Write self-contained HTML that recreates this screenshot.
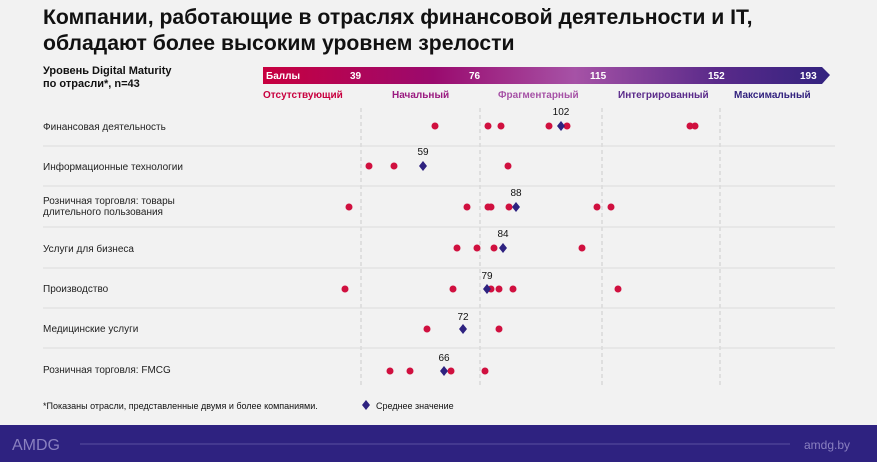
<!DOCTYPE html>
<html><head><meta charset="utf-8"><style>
body{margin:0;width:877px;height:462px;background:#f2f2f2;font-family:"Liberation Sans",sans-serif;overflow:hidden;position:relative}
.t{position:absolute;white-space:nowrap}
</style></head><body>
<div class="t" style="left:43px;top:5px;font-size:21.2px;font-weight:bold;color:#111;line-height:26px">Компании, работающие в отраслях финансовой деятельности и IT,<br>обладают более высоким уровнем зрелости</div>
<div class="t" style="left:43px;top:65px;font-size:11px;font-weight:bold;color:#111;line-height:13px">Уровень Digital Maturity<br>по отрасли*, n=43</div>
<svg width="877" height="462" style="position:absolute;left:0;top:0">
<defs><linearGradient id="g" x1="0" x2="1"><stop offset="0" stop-color="#c8003f"/><stop offset="0.3" stop-color="#9a0a6e"/><stop offset="0.55" stop-color="#a652a6"/><stop offset="0.8" stop-color="#5a2a8a"/><stop offset="1" stop-color="#33237f"/></linearGradient></defs>
<polygon points="263,67 822,67 830,75 822,84 263,84" fill="url(#g)"/>
<g font-size="10" font-weight="bold" fill="#fff">
<text x="266" y="79">Баллы</text><text x="350" y="79">39</text><text x="469" y="79">76</text><text x="590" y="79">115</text><text x="708" y="79">152</text><text x="800" y="79">193</text></g>
<g font-size="10" font-weight="bold">
<text x="263" y="98" fill="#c8003f">Отсутствующий</text><text x="392" y="98" fill="#9a1a80">Начальный</text><text x="498" y="98" fill="#a652a6">Фрагментарный</text><text x="618" y="98" fill="#5a2a8a">Интегрированный</text><text x="734" y="98" fill="#33237f">Максимальный</text></g>
<g stroke="#ccc" stroke-dasharray="4,3"><line x1="361" y1="108" x2="361" y2="385"/><line x1="480" y1="108" x2="480" y2="385"/><line x1="602" y1="108" x2="602" y2="385"/><line x1="720" y1="108" x2="720" y2="385"/></g>
<g stroke="#dcdcdc"><line x1="43" y1="146" x2="835" y2="146"/><line x1="43" y1="186" x2="835" y2="186"/><line x1="43" y1="227" x2="835" y2="227"/><line x1="43" y1="268" x2="835" y2="268"/><line x1="43" y1="308" x2="835" y2="308"/><line x1="43" y1="348" x2="835" y2="348"/></g>
<g font-size="10" fill="#222">
<text x="43" y="130">Финансовая деятельность</text>
<text x="43" y="170">Информационные технологии</text>
<text x="43" y="204">Розничная торговля: товары</text><text x="43" y="215">длительного пользования</text>
<text x="43" y="252">Услуги для бизнеса</text>
<text x="43" y="292">Производство</text>
<text x="43" y="332">Медицинские услуги</text>
<text x="43" y="373">Розничная торговля: FMCG</text>
</g>
<g fill="#d0103f">
<circle cx="435" cy="126" r="3.5"/><circle cx="488" cy="126" r="3.5"/><circle cx="501" cy="126" r="3.5"/><circle cx="549" cy="126" r="3.5"/><circle cx="567" cy="126" r="3.5"/><circle cx="690" cy="126" r="3.5"/><circle cx="695" cy="126" r="3.5"/>
<circle cx="369" cy="166" r="3.5"/><circle cx="394" cy="166" r="3.5"/><circle cx="508" cy="166" r="3.5"/>
<circle cx="349" cy="207" r="3.5"/><circle cx="467" cy="207" r="3.5"/><circle cx="488" cy="207" r="3.5"/><circle cx="491" cy="207" r="3.5"/><circle cx="509" cy="207" r="3.5"/><circle cx="597" cy="207" r="3.5"/><circle cx="611" cy="207" r="3.5"/>
<circle cx="457" cy="248" r="3.5"/><circle cx="477" cy="248" r="3.5"/><circle cx="494" cy="248" r="3.5"/><circle cx="582" cy="248" r="3.5"/>
<circle cx="345" cy="289" r="3.5"/><circle cx="453" cy="289" r="3.5"/><circle cx="491" cy="289" r="3.5"/><circle cx="499" cy="289" r="3.5"/><circle cx="513" cy="289" r="3.5"/><circle cx="618" cy="289" r="3.5"/>
<circle cx="427" cy="329" r="3.5"/><circle cx="499" cy="329" r="3.5"/>
<circle cx="390" cy="371" r="3.5"/><circle cx="410" cy="371" r="3.5"/><circle cx="451" cy="371" r="3.5"/><circle cx="485" cy="371" r="3.5"/>
</g>
<g fill="#2e2280">
<polygon points="561,121 565,126 561,131 557,126"/>
<polygon points="423,161 427,166 423,171 419,166"/>
<polygon points="516,202 520,207 516,212 512,207"/>
<polygon points="503,243 507,248 503,253 499,248"/>
<polygon points="487,284 491,289 487,294 483,289"/>
<polygon points="463,324 467,329 463,334 459,329"/>
<polygon points="444,366 448,371 444,376 440,371"/>
<polygon points="366,400 370,405 366,410 362,405"/>
</g>
<g font-size="10" fill="#111" text-anchor="middle">
<text x="561" y="115">102</text><text x="423" y="155">59</text><text x="516" y="196">88</text><text x="503" y="237">84</text><text x="487" y="279">79</text><text x="463" y="320">72</text><text x="444" y="361">66</text></g>
<text x="43" y="409" font-size="9" fill="#111">*Показаны отрасли, представленные двумя и более компаниями.</text>
<text x="376" y="409" font-size="9" fill="#111">Среднее значение</text>
<rect x="0" y="425" width="877" height="37" fill="#2e2280"/>
<text x="12" y="450" font-size="16" fill="#8a80c0">AMDG</text>
<line x1="80" y1="444" x2="790" y2="444" stroke="#5a50a0"/>
<text x="804" y="449" font-size="12" fill="#8a80c0">amdg.by</text>
</svg>
</body></html>
